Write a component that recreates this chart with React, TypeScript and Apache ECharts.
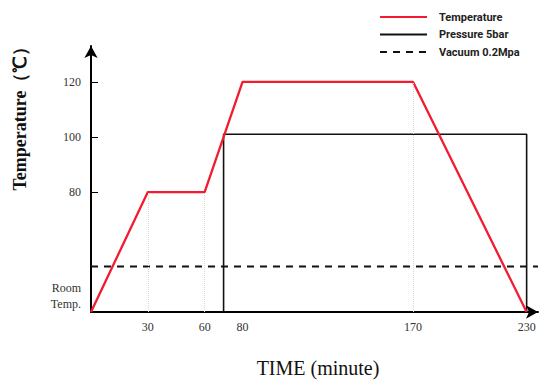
import React, { useEffect, useRef } from "react";
import * as echarts from "echarts";

// Schematic values (temperature axis in °C, time in minutes)
const ROOM_TEMP = 36.5;
const X_MAX = 236;
const Y_MAX = 133;

const TEMP_TIME = [0, 30, 60, 80, 170, 230];
const TEMP_VALUE = [ROOM_TEMP, 80, 80, 120, 120, ROOM_TEMP];

const PRESSURE_TIME = [70, 70, 230, 230];
const PRESSURE_VALUE = [ROOM_TEMP, 101, 101, ROOM_TEMP];

const VACUUM_TIME = [0, X_MAX];
const VACUUM_VALUE = [53, 53];

const X_TICKS = [30, 60, 80, 170, 230];
const Y_TICKS = [80, 100, 120];
const GUIDE_TIMES = [30, 60, 170];

const SERIES_NAMES = ["Temperature", "Pressure 5bar", "Vacuum 0.2Mpa"];

const zip = (xs: number[], ys: number[]) => xs.map((x, i) => [x, ys[i]]);

export default function App() {
  const ref = useRef<HTMLDivElement>(null);

  useEffect(() => {
    if (!ref.current) return;
    document.body.style.margin = "0";
    const chart = echarts.init(ref.current, null, { renderer: "svg" });

    const guideLines = GUIDE_TIMES.map((t) => {
      const idx = TEMP_TIME.indexOf(t);
      return [{ coord: [t, ROOM_TEMP] }, { coord: [t, TEMP_VALUE[idx]] }];
    });

    const serif = "'Liberation Serif', 'Times New Roman', serif";

    chart.setOption({
      animation: false,
      backgroundColor: "#ffffff",
      grid: { left: 91, right: 8, top: 46, bottom: 70, containLabel: false },
      legend: {
        orient: "vertical",
        left: 374,
        top: 5,
        itemWidth: 47,
        itemHeight: 14,
        itemGap: 3.5,
        data: SERIES_NAMES,
        itemStyle: { opacity: 0 },
        textStyle: {
          fontFamily: "'Roboto', sans-serif",
          fontWeight: "bold",
          fontSize: 11,
          lineHeight: 14,
          color: "#222",
          padding: [0, 0, 0, 7],
        },
      },
      xAxis: {
        type: "value",
        min: 0,
        max: X_MAX,
        splitLine: { show: false },
        axisLine: {
          show: true,
          symbol: ["none", "arrow"],
          symbolSize: [10, 12],
          lineStyle: { color: "#000", width: 2 },
        },
        axisTick: { show: false },
        axisLabel: {
          customValues: X_TICKS,
          margin: 9,
          fontFamily: serif,
          fontSize: 12,
          color: "#333",
        },
      },
      yAxis: {
        type: "value",
        min: ROOM_TEMP,
        max: Y_MAX,
        splitLine: { show: false },
        axisLine: {
          show: true,
          symbol: ["none", "arrow"],
          symbolSize: [10, 12],
          lineStyle: { color: "#000", width: 2 },
        },
        axisTick: {
          show: true,
          customValues: Y_TICKS,
          inside: true,
          length: 7,
          lineStyle: { color: "#000", width: 1 },
        },
        axisLabel: {
          customValues: [ROOM_TEMP, ...Y_TICKS],
          margin: 10,
          fontFamily: serif,
          fontSize: 12,
          color: "#333",
          formatter: (v: number) =>
            v === ROOM_TEMP
              ? "{r|Room}\n{r|Temp.}\n{r|\u00a0}\n{r|\u00a0}"
              : String(v),
          rich: { r: { lineHeight: 16, fontFamily: serif, fontSize: 12, color: "#333", align: "right" } },
        },
      },
      graphic: [
        {
          type: "text",
          x: 20,
          y: 114,
          rotation: Math.PI / 2,
          style: {
            text: "Temperature（℃）",
            fontFamily: serif,
            fontWeight: "bold",
            fontSize: 18,
            fill: "#111",
            textAlign: "center",
            textVerticalAlign: "middle",
          },
        },
        {
          type: "text",
          x: 318,
          y: 368,
          style: {
            text: "TIME (minute)",
            fontFamily: serif,
            fontSize: 20,
            fill: "#111",
            textAlign: "center",
            textVerticalAlign: "middle",
          },
        },
      ],
      series: [
        {
          name: SERIES_NAMES[0],
          type: "line",
          data: zip(TEMP_TIME, TEMP_VALUE),
          symbol: "none",
          lineStyle: { color: "#f31b2f", width: 2.3 },
          itemStyle: { color: "#f31b2f" },
          z: 3,
          markLine: {
            silent: true,
            symbol: "none",
            label: { show: false },
            lineStyle: { color: "#d6d6d6", type: "dotted", width: 1 },
            data: guideLines,
          },
        },
        {
          name: SERIES_NAMES[1],
          type: "line",
          data: zip(PRESSURE_TIME, PRESSURE_VALUE),
          symbol: "none",
          lineStyle: { color: "#111", width: 1.6 },
          itemStyle: { color: "#111" },
          z: 2,
        },
        {
          name: SERIES_NAMES[2],
          type: "line",
          data: zip(VACUUM_TIME, VACUUM_VALUE),
          symbol: "none",
          lineStyle: { color: "#111", width: 2, type: [7, 6] },
          itemStyle: { color: "#111" },
          z: 2,
        },
      ],
    });

    return () => chart.dispose();
  }, []);

  return (
    <div
      ref={ref}
      style={{ position: "absolute", left: 0, top: 0, width: 546, height: 382 }}
    />
  );
}
